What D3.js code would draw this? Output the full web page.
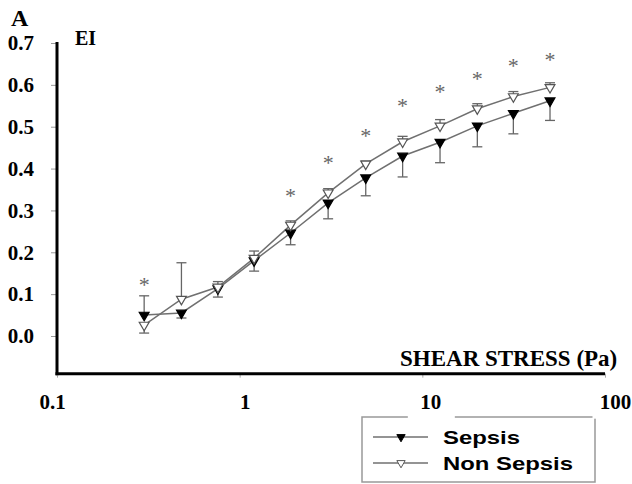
<!DOCTYPE html>
<html>
<head>
<meta charset="utf-8">
<script src="https://cdn.jsdelivr.net/npm/d3@7"></script>
<style>
  body { margin: 0; background: #fff; }
  .tick text { font-family: "Liberation Serif", "Times New Roman", serif; font-weight: bold; font-size: 21px; fill: #000; }
</style>
</head>
<body>
<div id="chart"></div>
<script>
//// data
var stress = [0.3, 0.48, 0.76, 1.2, 1.9, 3.05, 4.9, 7.8, 12.5, 20, 31.5, 50];
var sepsis = [0.050, 0.055, 0.113, 0.180, 0.246, 0.318, 0.378, 0.430, 0.463, 0.502, 0.532, 0.562];
// signed error: + goes up, - goes down
var sepsisErr = [0.046, -0.012, -0.020, -0.025, -0.028, -0.038, -0.043, -0.050, -0.049, -0.050, -0.049, -0.047];
var nonSepsis = [0.026, 0.088, 0.117, 0.186, 0.265, 0.342, 0.411, 0.464, 0.502, 0.543, 0.572, 0.594];
var nonSepsisErr = [-0.019, 0.087, 0.013, 0.017, 0.010, 0.010, 0.007, 0.013, 0.015, 0.012, 0.012, 0.011];
var starIndex = [0, 4, 5, 6, 7, 8, 9, 10, 11];
var starY = [0.13, 0.342, 0.421, 0.486, 0.557, 0.591, 0.62, 0.653, 0.667];
var xTicks = [0.1, 1, 10, 100];
var xTickLabels = ["0.1", "1", "10", "100"];
var yTicks = [0, 0.1, 0.2, 0.3, 0.4, 0.5, 0.6, 0.7];
var seriesNames = ["Sepsis", "Non Sepsis"];

//// chart
var width = 632, height = 484;

var svg = d3.select("#chart")
  .append("svg")
    .attr("width", width)
    .attr("height", height)
    .style("display", "block");

svg.append("rect").attr("width", width).attr("height", height).attr("fill", "#fff");

var xScale = d3.scaleLog()
  .domain([0.1, 100])
  .range([57, 605]);

var yScale = d3.scaleLinear()
  .domain([0, 0.7])
  .range([336, 43]);

var yBottom = -0.09; // x axis sits a bit under 0.0
var grey = "#707070";
var serif = "'Liberation Serif', 'Times New Roman', serif";
var sans = "'Liberation Sans', Arial, sans-serif";

//// legend box (drawn first, tick labels knock it out)
var legend = svg.append("g");
legend.append("rect")
  .attr("x", 362).attr("y", 417)
  .attr("width", 233).attr("height", 65)
  .attr("fill", "none")
  .attr("stroke", "#999")
  .attr("stroke-width", 1.5);

//// y axis
var yAxis = svg.append("g")
  .attr("transform", "translate(" + xScale(0.1) + ",0)")
  .call(d3.axisLeft(yScale)
    .tickValues(yTicks)
    .tickFormat(d3.format(".1f"))
    .tickSize(6)
    .tickPadding(17));
yAxis.select(".domain").remove();
yAxis.selectAll(".tick line").attr("stroke", "#999");

svg.append("line")
  .attr("x1", xScale(0.1)).attr("x2", xScale(0.1))
  .attr("y1", yScale(0.7) - 1).attr("y2", yScale(yBottom) + 1.5)
  .attr("stroke", "#000").attr("stroke-width", 3);

//// x axis
var labelShift = [-5, 5, 8, 10];
var xAxis = svg.append("g")
  .attr("transform", "translate(0," + yScale(yBottom) + ")")
  .call(d3.axisBottom(xScale)
    .tickValues(xTicks)
    .tickFormat(function(d, i) { return xTickLabels[i]; })
    .tickSize(4)
    .tickPadding(16));
xAxis.select(".domain").remove();
xAxis.selectAll(".tick line").attr("stroke", "#aaa");
xAxis.selectAll(".tick text").attr("dx", function(d, i) { return labelShift[i]; });
xAxis.selectAll(".tick").insert("rect", "text")
  .attr("x", function(d, i) { return labelShift[i] - 23; })
  .attr("y", 17)
  .attr("width", 47).attr("height", 28)
  .attr("fill", "#fff");

svg.append("line")
  .attr("x1", xScale(0.1) - 1.5).attr("x2", xScale(100))
  .attr("y1", yScale(yBottom)).attr("y2", yScale(yBottom))
  .attr("stroke", "#000").attr("stroke-width", 3);

//// titles
svg.append("text").attr("x", 11).attr("y", 26)
  .style("font-family", serif).style("font-weight", "bold").style("font-size", "24px")
  .text("A");
svg.append("text").attr("x", 75).attr("y", 45)
  .style("font-family", serif).style("font-weight", "bold").style("font-size", "20px")
  .text("EI");
svg.append("text").attr("x", 400).attr("y", 366)
  .style("font-family", serif).style("font-weight", "bold").style("font-size", "23px")
  .text("SHEAR STRESS (Pa)");

//// series
var series = [
  { name: seriesNames[0], values: sepsis, err: sepsisErr, fill: "#000", stroke: "#000" },
  { name: seriesNames[1], values: nonSepsis, err: nonSepsisErr, fill: "#fff", stroke: "#555" }
];

var line = d3.line()
  .x(function(d) { return xScale(d[0]); })
  .y(function(d) { return yScale(d[1]); });

var tri = d3.symbol().type(d3.symbolTriangle).size(42);

series.forEach(function(s) {
  var pts = stress.map(function(x, i) { return [x, s.values[i], s.err[i]]; });

  svg.append("path")
    .datum(pts)
    .attr("d", line)
    .attr("fill", "none")
    .attr("stroke", grey)
    .attr("stroke-width", 1.5);

  //// error bars
  var eb = svg.append("g").selectAll("g")
    .data(pts)
    .enter().append("g")
    .attr("stroke", "#666")
    .attr("stroke-width", 1.3);
  eb.append("line")
    .attr("x1", function(d) { return xScale(d[0]); })
    .attr("x2", function(d) { return xScale(d[0]); })
    .attr("y1", function(d) { return yScale(d[1]); })
    .attr("y2", function(d) { return yScale(d[1] + d[2]); });
  eb.append("line")
    .attr("x1", function(d) { return xScale(d[0]) - 5; })
    .attr("x2", function(d) { return xScale(d[0]) + 5; })
    .attr("y1", function(d) { return yScale(d[1] + d[2]); })
    .attr("y2", function(d) { return yScale(d[1] + d[2]); });

  s.pts = pts;
});

//// markers on top
series.forEach(function(s) {
  svg.append("g").selectAll("path")
    .data(s.pts)
    .enter().append("path")
    .attr("d", tri)
    .attr("transform", function(d) {
      return "translate(" + xScale(d[0]) + "," + yScale(d[1]) + ") rotate(180)";
    })
    .attr("fill", s.fill)
    .attr("stroke", s.stroke)
    .attr("stroke-width", 1.2);
});

//// significance stars
svg.append("g").selectAll("text")
  .data(starIndex)
  .enter().append("text")
  .attr("x", function(d) { return xScale(stress[d]); })
  .attr("y", function(d, i) { return yScale(starY[i]) + 10; })
  .attr("text-anchor", "middle")
  .style("font-family", serif)
  .style("font-size", "22px")
  .attr("fill", "#666")
  .text("*");

//// legend entries
var rows = legend.selectAll(".row")
  .data(series)
  .enter().append("g")
  .attr("class", "row")
  .attr("transform", function(d, i) { return "translate(0," + (437 + i * 26) + ")"; });
rows.append("line")
  .attr("x1", 373).attr("x2", 428)
  .attr("stroke", grey).attr("stroke-width", 1.5);
rows.append("path")
  .attr("d", d3.symbol().type(d3.symbolTriangle).size(30))
  .attr("transform", "translate(401,0) rotate(180)")
  .attr("fill", function(d) { return d.fill; })
  .attr("stroke", function(d) { return d.stroke; });
rows.append("text")
  .attr("x", 443).attr("y", 7)
  .attr("textLength", function(d, i) { return i === 0 ? 77 : 130; })
  .attr("lengthAdjust", "spacingAndGlyphs")
  .style("font-family", sans).style("font-weight", "bold").style("font-size", "19px")
  .text(function(d) { return d.name; });
</script>
</body>
</html>
